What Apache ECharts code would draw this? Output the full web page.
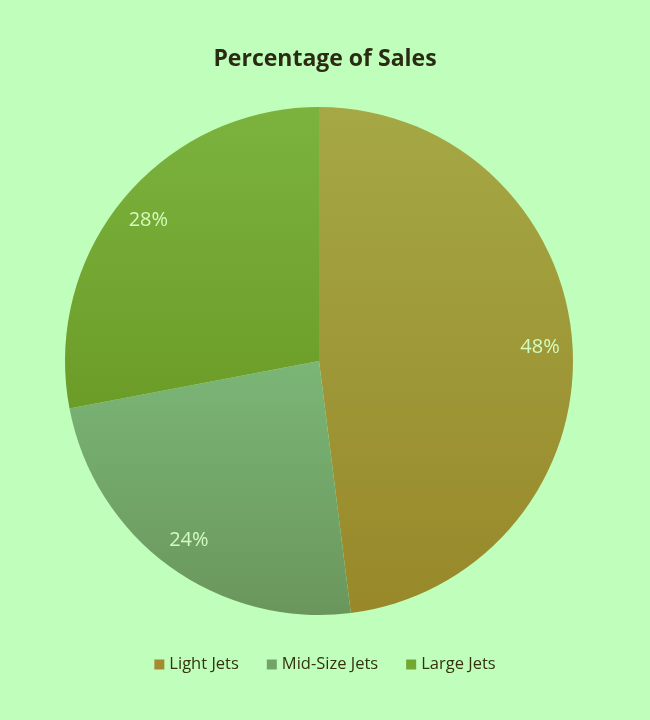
<!DOCTYPE html>
<html>
<head>
<meta charset="utf-8">
<script src="https://cdn.jsdelivr.net/npm/echarts@6/dist/echarts.min.js"></script>
<style>
  html, body { margin: 0; padding: 0; background: #bfffbb; }
  #chart { width: 650px; height: 720px; }
</style>
</head>
<body>
<div id="chart"></div>
<script>
const categories = ['Light Jets', 'Mid-Size Jets', 'Large Jets']
const shares = [48, 24, 28]

// top / bottom colours of each slice gradient
const topColors = ['#a5a845', '#7bb677', '#7bb33e']
const bottomColors = ['#98882a', '#6a965c', '#6c9c28']
const legendColors = ['#a48a30', '#72a468', '#74a632']

const grad = (i) => new echarts.graphic.LinearGradient(0, 0, 0, 1, [
	{ offset: 0, color: topColors[i] },
	{ offset: 1, color: bottomColors[i] }
])

const center = [319, 361]
const R = 254

const chart = echarts.init(document.getElementById('chart'))

chart.setOption({
	backgroundColor: '#bfffbb',
	animation: false,
	title: {
		text: 'Percentage of Sales',
		left: 'center',
		top: 43,
		textStyle: {
			fontFamily: 'Open Sans',
			fontWeight: 'bold',
			fontSize: 23,
			color: '#2b2a12'
		}
	},
	legend: {
		bottom: 42,
		left: 'center',
		icon: 'rect',
		itemWidth: 10,
		itemHeight: 10,
		itemGap: 28,
		data: categories.map((name, i) => ({ name, itemStyle: { color: legendColors[i] } })),
		textStyle: { fontFamily: 'Open Sans', fontSize: 16.5, color: '#33330f' }
	},
	series: [
		{
			type: 'pie',
			center: center,
			radius: R,
			startAngle: 90,
			clockwise: true,
			label: { show: false },
			labelLine: { show: false },
			itemStyle: { borderWidth: 0 },
			data: categories.map((name, i) => ({
				name,
				value: shares[i],
				itemStyle: { color: grad(i) }
			}))
		},
		// transparent ring that only carries the labels near the rim
		{
			type: 'pie',
			center: center,
			radius: [R * 0.72, R],
			startAngle: 90,
			clockwise: true,
			silent: true,
			itemStyle: { color: 'rgba(0,0,0,0)' },
			label: {
				show: true,
				position: 'inside',
				formatter: '{d}%',
				fontFamily: 'Open Sans',
				fontSize: 20,
				color: '#d2fcc0'
			},
			labelLine: { show: false },
			data: categories.map((name, i) => ({ name, value: shares[i] }))
		}
	]
})
</script>
</body>
</html>
